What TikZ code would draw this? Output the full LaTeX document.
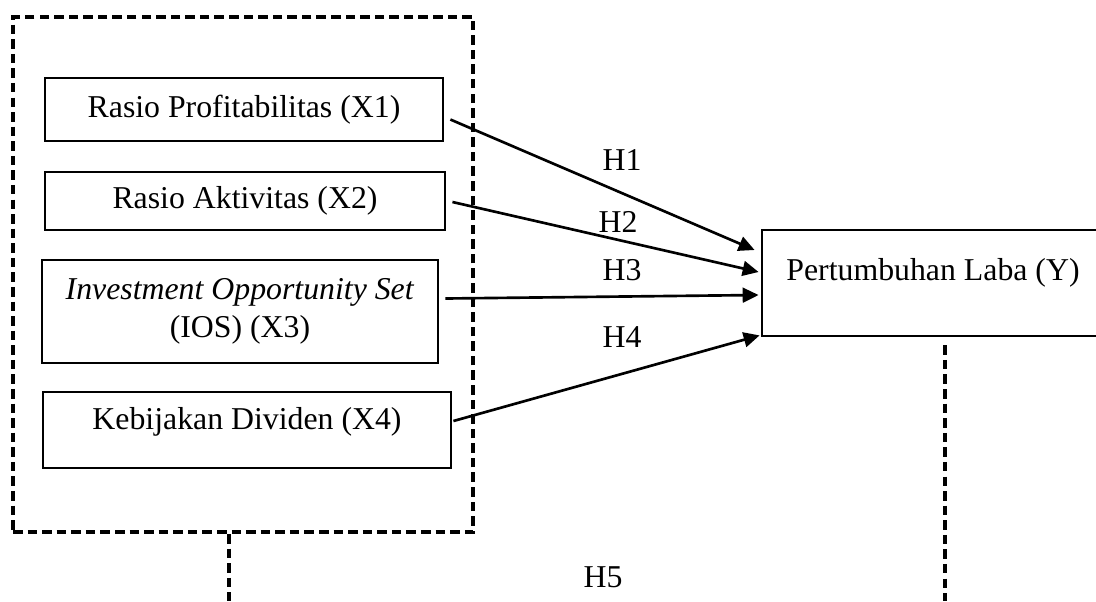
\documentclass[tikz,border=0pt]{standalone}
\usepackage{fontspec}
\setmainfont{Liberation Serif}
\usetikzlibrary{positioning,arrows.meta,calc}

\begin{document}
\begin{tikzpicture}[x=0.3774pt, y=-0.3774pt,
  var/.style={rectangle, draw, line width=1.05pt, text centered, font=\fontsize{12}{14.5}\selectfont,
    inner sep=2pt},
  grp/.style={rectangle, draw, line width=1.5pt, dash pattern=on 3.6pt off 1.9pt},
  dline/.style={line width=1.5pt, dash pattern=on 3.6pt off 1.9pt},
  arr/.style={-{Triangle[length=6pt,width=5.6pt]}, line width=1pt},
  hyp/.style={font=\fontsize{12}{14.5}\selectfont}
]
\clip (0,0) rectangle (1096,601);

% independent variables
\node[grp, minimum width=173.6pt, minimum height=194.4pt] (box) at (243,274.5) {};
\node[var, minimum width=150.2pt, minimum height=23.8pt] (x1) at (244,109.5) {Rasio Profitabilitas (X1)};
\node[var, minimum width=151.0pt, minimum height=21.9pt] (x2) at (245,201) {Rasio Aktivitas (X2)};
\node[var, minimum width=149.4pt, minimum height=38.9pt, align=center] (x3) at (240,311.5)
  {\textit{Investment Opportunity Set}\\(IOS) (X3)};
\node[var, minimum width=154.0pt, minimum height=28.7pt, text depth=8.6pt] (x4) at (247,430) {Kebijakan Dividen (X4)};

% dependent variable
\node[var, minimum width=129.1pt, minimum height=40.0pt, text depth=10.2pt] (y) at (933,283) {Pertumbuhan Laba (Y)};

\draw[arr] ([shift={(6,10)}]x1.east) -- ([shift={(-6,-33)}]y.west);
\draw[arr] ([shift={(6,1)}]x2.east) -- ([shift={(-2,-11)}]y.west);
\draw[arr] ([shift={(6,-13)}]x3.east) -- ([shift={(-2,12)}]y.west);
\draw[arr] ([shift={(1,-9)}]x4.east) -- ([shift={(-1,-2)}]y.south west);

\node[hyp] (h1) at (622,160) {H1};
\node[hyp] (h2) at (618,222) {H2};
\node[hyp] (h3) at (622,270) {H3};
\node[hyp] (h4) at (622,337) {H4};
\node[hyp] (h5) at (603,577) {H5};

% simultaneous link
\coordinate (endL) at (229,601);
\coordinate (endR) at (945,601);
\draw[dline] (box.south -| endL) -- (endL);
\draw[dline, shorten <=3pt] (y.south -| endR) -- (endR);
\end{tikzpicture}
\end{document}
